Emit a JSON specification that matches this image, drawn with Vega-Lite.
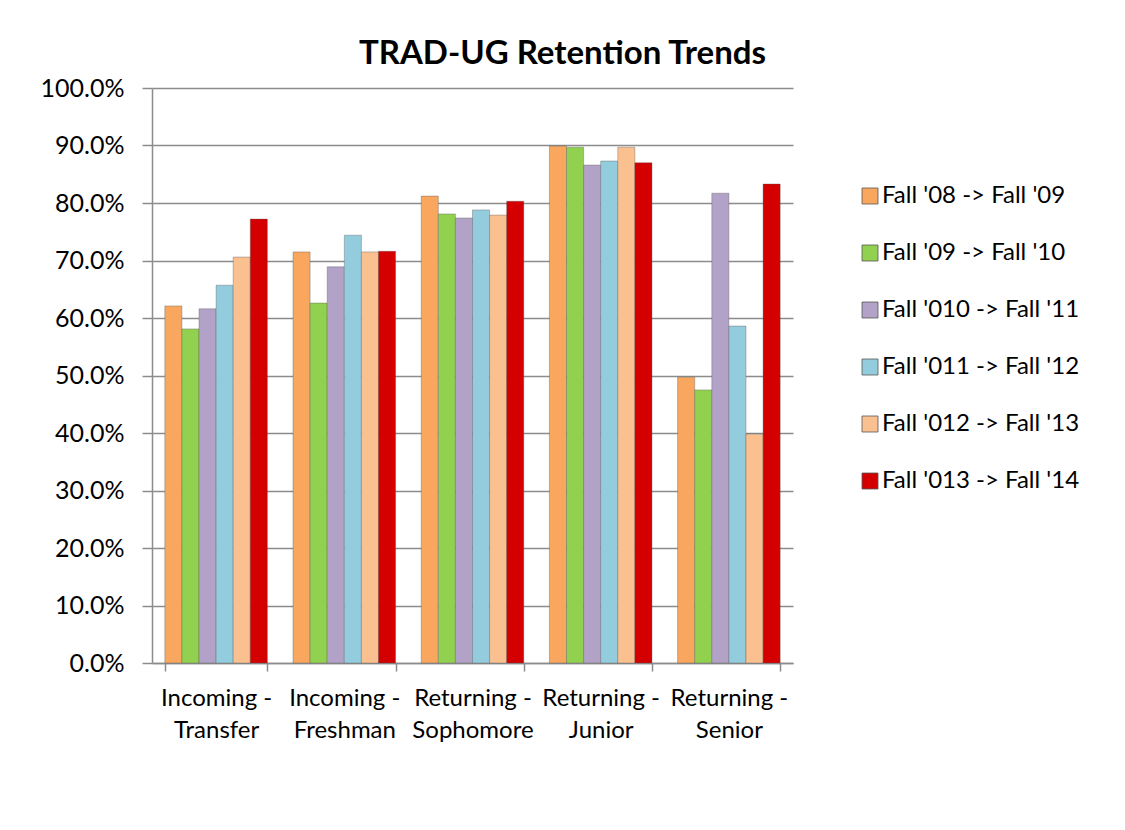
{
  "$schema": "https://vega.github.io/schema/vega-lite/v6.json",
  "width": 641,
  "height": 575,
  "autosize": "none",
  "padding": {"left": 152, "top": 88, "right": 332, "bottom": 167},
  "background": "white",
  "title": {
    "text": "TRAD-UG Retention Trends",
    "font": "Lato",
    "fontSize": 33,
    "fontWeight": "bold",
    "color": "black",
    "anchor": "middle",
    "dx": 90,
    "baseline": "alphabetic",
    "offset": -21
  },
  "data": {
    "values": [
      {"cat": "Incoming - Transfer", "period": "Fall '08 -> Fall '09", "value": 0.621},
      {"cat": "Incoming - Transfer", "period": "Fall '09 -> Fall '10", "value": 0.581},
      {"cat": "Incoming - Transfer", "period": "Fall '010 -> Fall '11", "value": 0.616},
      {"cat": "Incoming - Transfer", "period": "Fall '011 -> Fall '12", "value": 0.657},
      {"cat": "Incoming - Transfer", "period": "Fall '012 -> Fall '13", "value": 0.706},
      {"cat": "Incoming - Transfer", "period": "Fall '013 -> Fall '14", "value": 0.772},
      {"cat": "Incoming - Freshman", "period": "Fall '08 -> Fall '09", "value": 0.715},
      {"cat": "Incoming - Freshman", "period": "Fall '09 -> Fall '10", "value": 0.626},
      {"cat": "Incoming - Freshman", "period": "Fall '010 -> Fall '11", "value": 0.689},
      {"cat": "Incoming - Freshman", "period": "Fall '011 -> Fall '12", "value": 0.744},
      {"cat": "Incoming - Freshman", "period": "Fall '012 -> Fall '13", "value": 0.715},
      {"cat": "Incoming - Freshman", "period": "Fall '013 -> Fall '14", "value": 0.716},
      {"cat": "Returning - Sophomore", "period": "Fall '08 -> Fall '09", "value": 0.812},
      {"cat": "Returning - Sophomore", "period": "Fall '09 -> Fall '10", "value": 0.781},
      {"cat": "Returning - Sophomore", "period": "Fall '010 -> Fall '11", "value": 0.774},
      {"cat": "Returning - Sophomore", "period": "Fall '011 -> Fall '12", "value": 0.788},
      {"cat": "Returning - Sophomore", "period": "Fall '012 -> Fall '13", "value": 0.779},
      {"cat": "Returning - Sophomore", "period": "Fall '013 -> Fall '14", "value": 0.803},
      {"cat": "Returning - Junior", "period": "Fall '08 -> Fall '09", "value": 0.899},
      {"cat": "Returning - Junior", "period": "Fall '09 -> Fall '10", "value": 0.897},
      {"cat": "Returning - Junior", "period": "Fall '010 -> Fall '11", "value": 0.866},
      {"cat": "Returning - Junior", "period": "Fall '011 -> Fall '12", "value": 0.873},
      {"cat": "Returning - Junior", "period": "Fall '012 -> Fall '13", "value": 0.897},
      {"cat": "Returning - Junior", "period": "Fall '013 -> Fall '14", "value": 0.870},
      {"cat": "Returning - Senior", "period": "Fall '08 -> Fall '09", "value": 0.497},
      {"cat": "Returning - Senior", "period": "Fall '09 -> Fall '10", "value": 0.475},
      {"cat": "Returning - Senior", "period": "Fall '010 -> Fall '11", "value": 0.817},
      {"cat": "Returning - Senior", "period": "Fall '011 -> Fall '12", "value": 0.586},
      {"cat": "Returning - Senior", "period": "Fall '012 -> Fall '13", "value": 0.398},
      {"cat": "Returning - Senior", "period": "Fall '013 -> Fall '14", "value": 0.833}
    ]
  },
  "mark": {"type": "bar", "stroke": "#555555", "strokeWidth": 0.6, "strokeOpacity": 0.6},
  "encoding": {
    "x": {
      "field": "cat",
      "type": "nominal",
      "sort": ["Incoming - Transfer", "Incoming - Freshman", "Returning - Sophomore", "Returning - Junior", "Returning - Senior"],
      "scale": {"paddingInner": 0.2, "paddingOuter": 0.1},
      "axis": {
        "title": null,
        "labelAngle": 0,
        "labelExpr": "indexof(datum.label + '', ' - ') >= 0 ? [split(datum.label, ' - ')[0] + ' -', split(datum.label, ' - ')[1]] : ''",
        "labelFont": "Lato",
        "labelFontSize": 24,
        "labelLineHeight": 32,
        "labelColor": "black",
        "labelPadding": 15,
        "labelLimit": 200,
        "tickBand": "extent",
        "tickSize": 8,
        "tickColor": "#8c8c8c",
        "tickWidth": 1.5,
        "domainColor": "#8c8c8c",
        "domainWidth": 1.5,
        "grid": false
      }
    },
    "xOffset": {
      "field": "period",
      "sort": ["Fall '08 -> Fall '09", "Fall '09 -> Fall '10", "Fall '010 -> Fall '11", "Fall '011 -> Fall '12", "Fall '012 -> Fall '13", "Fall '013 -> Fall '14"]
    },
    "y": {
      "field": "value",
      "type": "quantitative",
      "scale": {"domain": [0, 1], "nice": false},
      "axis": {
        "title": null,
        "format": ".1%",
        "values": [0, 0.1, 0.2, 0.3, 0.4, 0.5, 0.6, 0.7, 0.8, 0.9, 1.0],
        "labelFont": "Lato",
        "labelFontSize": 25,
        "labelColor": "black",
        "labelPadding": 18,
        "tickSize": 10,
        "tickColor": "#8c8c8c",
        "tickWidth": 1.5,
        "domainColor": "#8c8c8c",
        "domainWidth": 1.5,
        "gridColor": "#8c8c8c",
        "gridWidth": 1.5
      }
    },
    "color": {
      "field": "period",
      "type": "nominal",
      "sort": ["Fall '08 -> Fall '09", "Fall '09 -> Fall '10", "Fall '010 -> Fall '11", "Fall '011 -> Fall '12", "Fall '012 -> Fall '13", "Fall '013 -> Fall '14"],
      "scale": {
        "domain": ["Fall '08 -> Fall '09", "Fall '09 -> Fall '10", "Fall '010 -> Fall '11", "Fall '011 -> Fall '12", "Fall '012 -> Fall '13", "Fall '013 -> Fall '14"],
        "range": ["#F9A65E", "#92D050", "#B3A2C7", "#93CDDD", "#FAC090", "#D40000"]
      },
      "legend": {
        "title": null,
        "orient": "none",
        "legendX": 706,
        "legendY": 96,
        "symbolType": "square",
        "symbolSize": 256,
        "symbolStrokeWidth": 0.8,
        "labelFont": "Lato",
        "labelFontSize": 24,
        "labelColor": "black",
        "labelOffset": 0,
        "labelLimit": 300,
        "rowPadding": 33
      }
    }
  },
  "config": {
    "view": {"stroke": null}
  }
}
